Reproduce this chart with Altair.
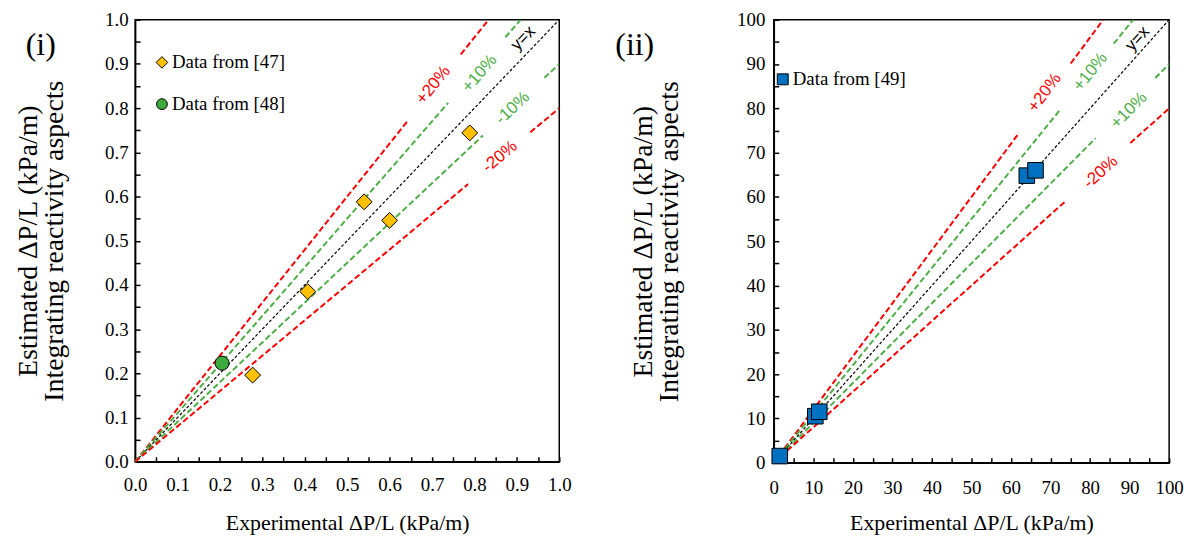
import altair as alt
import pandas as pd

# ---------------- data ----------------
# Panel (i)
x47 = [0.277, 0.407, 0.540, 0.600, 0.789]
y47 = [0.196, 0.385, 0.588, 0.546, 0.744]
x48 = [0.205]
y48 = [0.223]
# Panel (ii)
x49 = [1.5, 10.5, 11.5, 64.0, 66.2]
y49 = [1.5, 10.5, 11.5, 64.8, 66.0]

# reference lines: slope and visible x-ranges (gaps where the labels sit)
ref_slopes = [1.2, 1.1, 1.0, 0.9, 0.8]
left_segments = [
    [(0.0, 0.645), (0.768, 0.8333)],
    [(0.0, 0.738), (0.873, 0.9091)],
    [(0.0, 1.0)],
    [(0.0, 0.82), (0.965, 1.0)],
    [(0.0, 0.785), (0.932, 1.0)],
]
right_segments = [
    [(0.0, 62.1), (75.1, 83.33)],
    [(0.0, 72.6), (86.0, 90.91)],
    [(0.0, 100.0)],
    [(0.0, 81.4), (96.5, 100.0)],
    [(0.0, 73.8), (90.2, 100.0)],
]
left_label_text = ["+20%", "+10%", "y=x", "-10%", "-20%"]
left_label_x = [0.703, 0.812, 0.915, 0.890, 0.860]
left_label_y = [0.852, 0.878, 0.958, 0.800, 0.690]
right_label_text = ["+20%", "+10%", "y=x", "+10%", "-20%"]
right_label_x = [68.5, 80.1, 92.0, 89.8, 82.7]
right_label_y = [83.5, 88.2, 95.7, 79.5, 65.6]

left_ticks = [round(i * 0.05, 2) for i in range(21)]
left_labels = [round(i * 0.1, 1) for i in range(11)]
right_ticks = [i * 5 for i in range(21)]
right_labels = [i * 10 for i in range(11)]

RED = "#FF0000"
GREEN = "#4EAE48"
SERIF = "Liberation Serif"
SANS = "Liberation Sans"

XTITLE = "Experimental ΔP/L (kPa/m)"
YTITLE = ["Estimated ΔP/L (kPa/m)", "Integrating reactivity aspects"]


def seg_df(slope, segs):
    rows = []
    for k, (a, b) in enumerate(segs):
        rows.append({"x": a, "y": slope * a, "seg": k})
        rows.append({"x": b, "y": slope * b, "seg": k})
    return pd.DataFrame(rows)


def panel(W, H, dom, ticks, labels, fmt, segments, lab_text, lab_x, lab_y,
          angles, point_layers, extra_layers, pads):
    xlp, xtp, ylp, ytp = pads
    sc = alt.Scale(domain=dom, nice=False, zero=False)
    noax_x = alt.X("x:Q", scale=sc, axis=None)
    noax_y = alt.Y("y:Q", scale=sc, axis=None)
    layers = []
    styles = [(RED, [6, 3], 2), (GREEN, [6, 3], 2), ("black", [3, 2], 1.2),
              (GREEN, [6, 3], 2), (RED, [6, 3], 2)]
    for i, (slope, segs) in enumerate(zip(ref_slopes, segments)):
        col, dash, sw = styles[i]
        if i == 2:
            ex = alt.X("x:Q", scale=sc, axis=alt.Axis(
                orient="top", offset=-H, values=ticks, labels=False,
                domain=False, ticks=True, tickSize=5, title=None))
            ey = alt.Y("y:Q", scale=sc, axis=alt.Axis(
                orient="right", offset=-W, values=ticks, labels=False,
                domain=False, ticks=True, tickSize=5, title=None))
        else:
            ex, ey = noax_x, noax_y
        layers.append(
            alt.Chart(seg_df(slope, segs)).mark_line(
                color=col, strokeDash=dash, strokeWidth=sw, clip=True
            ).encode(x=ex, y=ey, detail="seg:N")
        )
    for t, lx, ly, ang, i in zip(lab_text, lab_x, lab_y, angles, range(5)):
        col = [RED, GREEN, "black", GREEN, RED][i]
        layers.append(
            alt.Chart(pd.DataFrame({"x": [lx], "y": [ly]})).mark_text(
                text=t, angle=ang, font=SANS, fontSize=17, color=col,
                align="center", baseline="middle"
            ).encode(x=noax_x, y=noax_y)
        )
    first = True
    for df, mk in point_layers:
        if first:
            ex = alt.X("x:Q", scale=sc, axis=alt.Axis(
                orient="bottom", values=labels, format=fmt, ticks=False,
                tickSize=0, labelPadding=xlp, labelFlush=False,
                labelOverlap=False, labelFont=SERIF, labelFontSize=19,
                labelColor="black", title=XTITLE, titlePadding=xtp,
                titleFont=SERIF, titleFontSize=22, titleFontWeight="normal",
                titleColor="black"))
            ey = alt.Y("y:Q", scale=sc, axis=alt.Axis(
                orient="left", values=labels, format=fmt, ticks=False,
                tickSize=0, labelPadding=ylp, labelFlush=False,
                labelOverlap=False, labelFont=SERIF, labelFontSize=19,
                labelColor="black", title=YTITLE, titlePadding=ytp,
                titleFont=SERIF, titleFontSize=28, titleFontWeight="normal",
                titleColor="black", titleLineHeight=27))
            first = False
        else:
            ex, ey = noax_x, noax_y
        layers.append(alt.Chart(df).mark_point(**mk).encode(x=ex, y=ey))
    layers.extend(extra_layers)
    return alt.layer(*layers).properties(width=W, height=H).resolve_axis(
        x="independent", y="independent")


W1, H1 = 427, 445
W2, H2 = 398, 446


# legends and panel tags (annotations)
def legend_item(px, py, shape, fill, size, label):
    sym = alt.Chart(pd.DataFrame({"a": [0]})).mark_point(
        shape=shape, filled=True, fill=fill, stroke="black", strokeWidth=1,
        size=size, opacity=1).encode(x=alt.value(px), y=alt.value(py))
    txt = alt.Chart(pd.DataFrame({"a": [0]})).mark_text(
        text=label, font=SERIF, fontSize=19, color="black", align="left",
        baseline="middle").encode(x=alt.value(px + 10), y=alt.value(py))
    return [sym, txt]


def tag(px, py, label):
    return alt.Chart(pd.DataFrame({"a": [0]})).mark_text(
        text=label, font=SERIF, fontSize=32, color="black", align="center",
        baseline="middle").encode(x=alt.value(px), y=alt.value(py))


left_points = [
    (pd.DataFrame({"x": x47, "y": y47}),
     dict(shape="diamond", filled=True, fill="#FFC000", stroke="black",
          strokeWidth=1, size=256, opacity=1)),
    (pd.DataFrame({"x": x48, "y": y48}),
     dict(shape="circle", filled=True, fill="#3DAA3D", stroke="black",
          strokeWidth=1, size=200, opacity=1)),
]
right_points = [
    (pd.DataFrame({"x": x49, "y": y49}),
     dict(shape="square", filled=True, fill="#0070C0", stroke="black",
          strokeWidth=1, size=246, opacity=1)),
]

left_extra = (legend_item(27, 43, "diamond", "#FFC000", 137, "Data from [47]")
              + legend_item(27, 85, "circle", "#3DAA3D", 119, "Data from [48]")
              + [tag(-95, 26, "(i)")])
right_extra = (legend_item(9, 60, "square", "#0070C0", 121, "Data from [49]")
               + [tag(-140, 26, "(ii)")])

left = panel(W1, H1, [0, 1], left_ticks, left_labels, ".1f", left_segments,
             left_label_text, left_label_x, left_label_y,
             [309, 311, 314, 317, 320], left_points, left_extra,
             (14, 18, 7, 36))
right = panel(W2, H2, [0, 100], right_ticks, right_labels, "d", right_segments,
              right_label_text, right_label_x, right_label_y,
              [307, 309, 312, 315, 318], right_points, right_extra,
              (16, 15, 9, 53))

chart = alt.hconcat(left, right, spacing=42).configure(
    font=SERIF, padding={"left": 5, "top": 0, "right": 5, "bottom": 0}
).configure_axis(
    domainColor="black", domainWidth=1.5, tickColor="black", tickWidth=1.5,
    labelFont=SERIF, labelFontSize=19, labelColor="black",
    titleFont=SERIF, titleColor="black", titleFontWeight="normal", grid=False
).configure_view(stroke="black", strokeWidth=1.5)

chart.save("out.html", embed_options={"renderer": "svg", "actions": False})
